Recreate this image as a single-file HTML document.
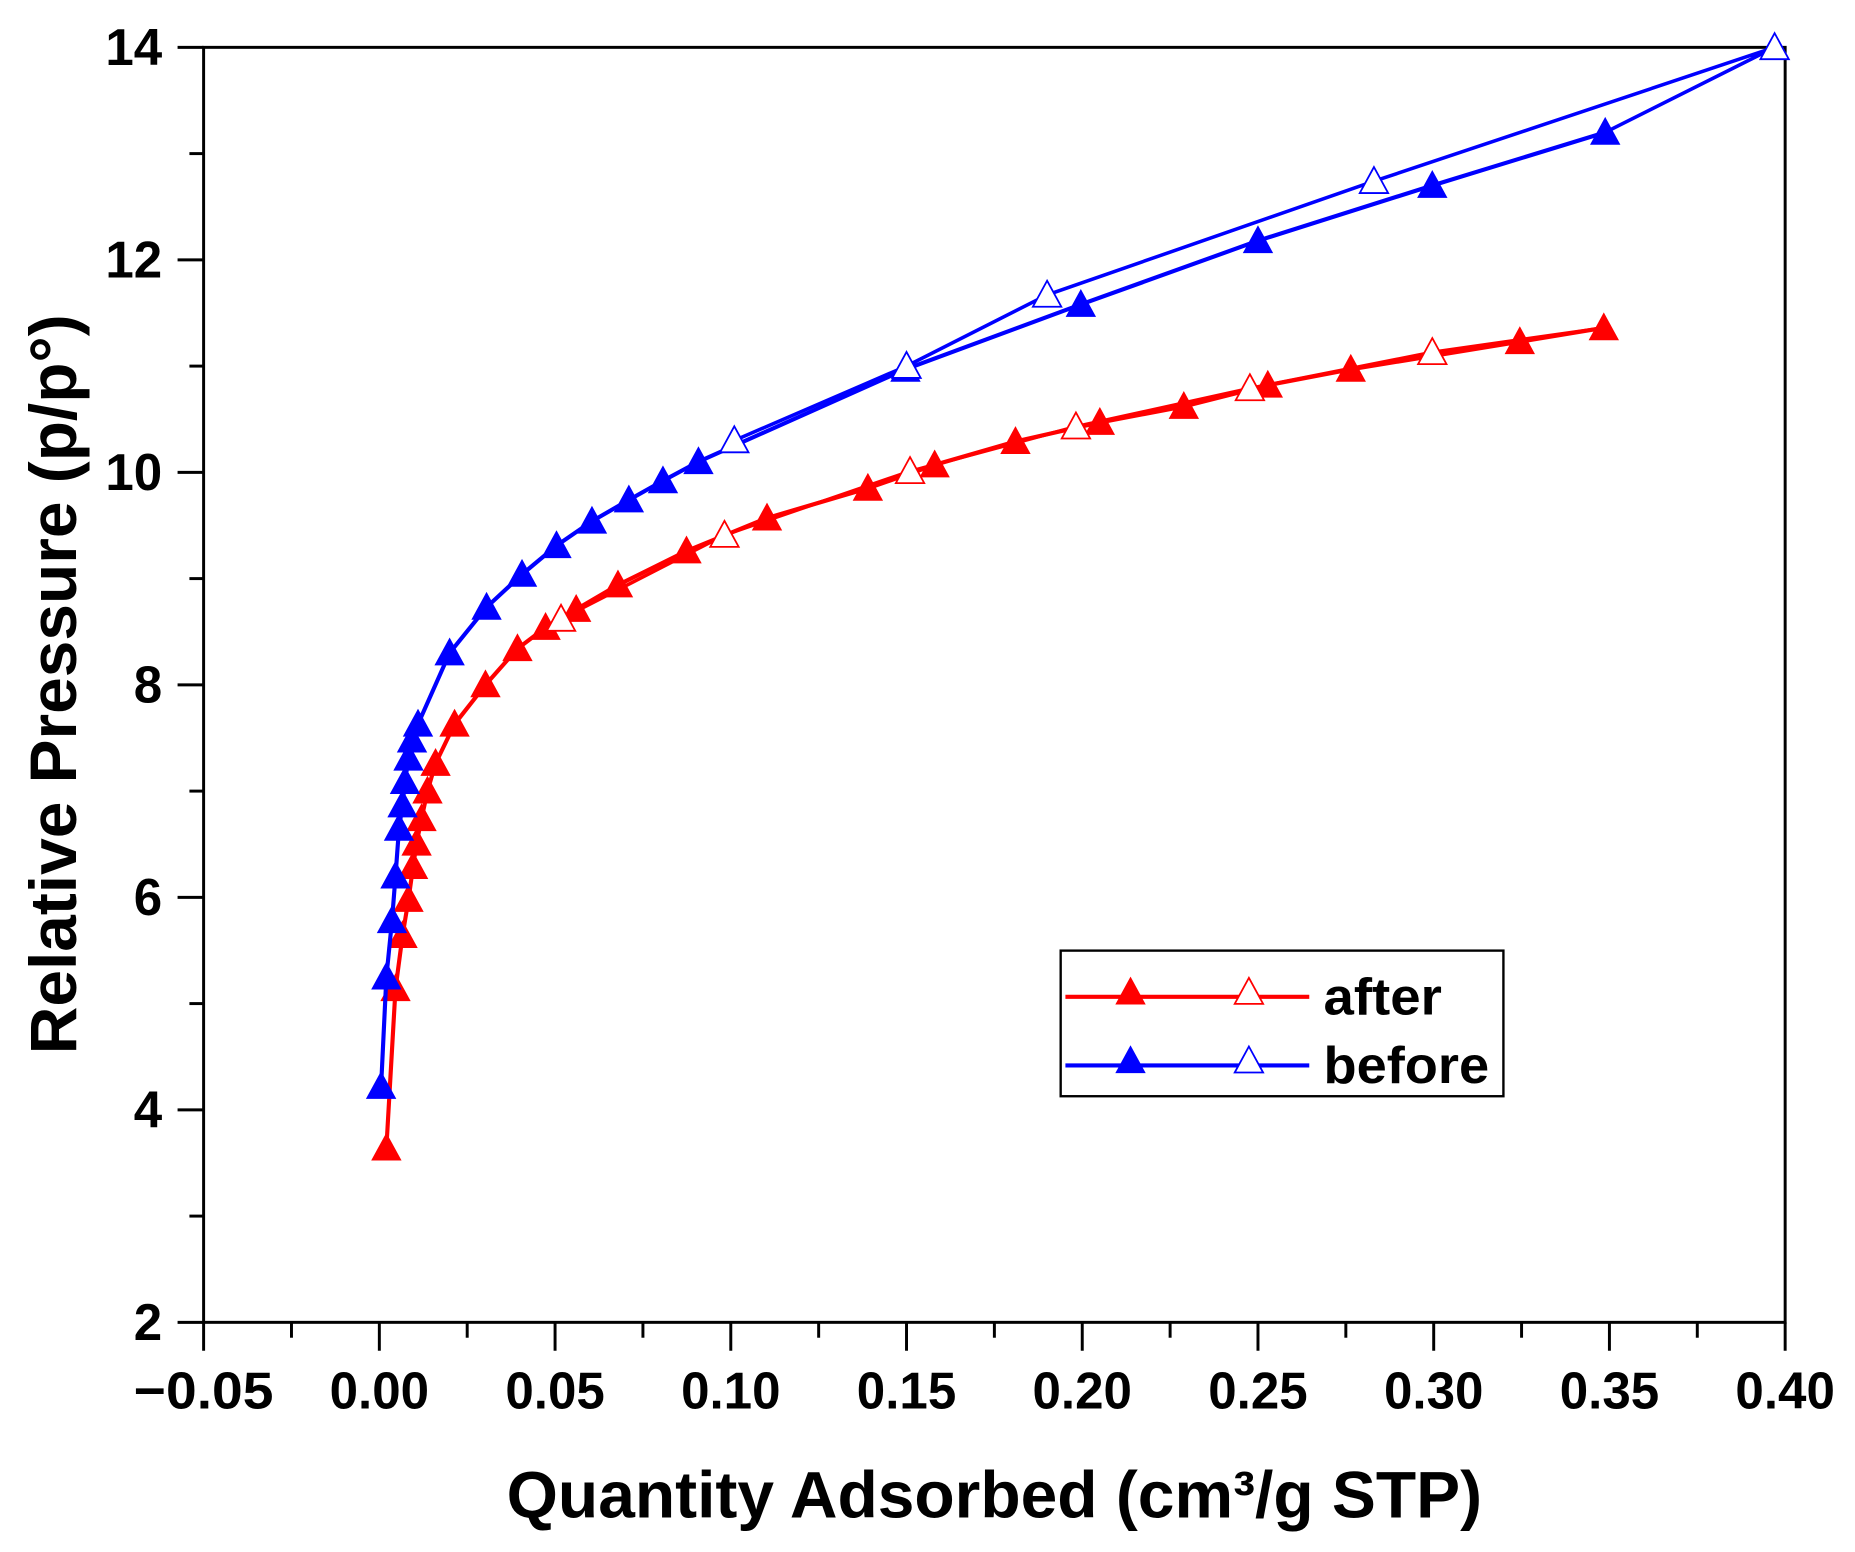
<!DOCTYPE html>
<html><head><meta charset="utf-8"><style>html,body{margin:0;padding:0;background:#fff}svg{display:block}</style></head>
<body>
<svg id="chart" width="1855" height="1552" viewBox="0 0 1567 1311" preserveAspectRatio="none" xmlns="http://www.w3.org/2000/svg" font-family="Liberation Sans, Arial, sans-serif" font-weight="bold">
<rect width="1567" height="1311" fill="#fff"/>
<g id="plot"></g>
</svg>
<script>
const xTicks = [-0.05,0,0.05,0.10,0.15,0.20,0.25,0.30,0.35,0.40];
const xTickLabels = ["\u22120.05","0.00","0.05","0.10","0.15","0.20","0.25","0.30","0.35","0.40"];
const yTicks = [2,4,6,8,10,12,14];
const yTickLabels = ["2","4","6","8","10","12","14"];
const beforeAdsX = [0.0005,0.002,0.0036,0.0046,0.0056,0.0066,0.0073,0.0083,0.0093,0.011,0.02,0.0305,0.0406,0.0504,0.0605,0.071,0.0807,0.0908,0.1497,0.1996,0.25,0.2996,0.3488];
const beforeAdsY = [4.22,5.25,5.78,6.2,6.65,6.87,7.09,7.31,7.48,7.63,8.3,8.73,9.04,9.31,9.54,9.74,9.92,10.1,10.97,11.58,12.18,12.70,13.2];
const beforeDesX = [0.397,0.283,0.19,0.15,0.101];
const beforeDesY = [14.0,12.74,11.67,11.0,10.3];
const afterAdsX = [0.002,0.0046,0.0066,0.0083,0.0096,0.0106,0.012,0.0137,0.016,0.0214,0.0302,0.0393,0.0473,0.056,0.0679,0.0874,0.1103,0.139,0.158,0.181,0.205,0.2289,0.2528,0.2764,0.3245,0.3484];
const afterAdsY = [3.64,5.14,5.64,5.98,6.29,6.51,6.74,7.0,7.26,7.63,8.0,8.34,8.54,8.71,8.94,9.26,9.57,9.85,10.07,10.29,10.47,10.62,10.82,10.97,11.23,11.36];
const afterDesX = [0.2996,0.2477,0.1982,0.151,0.0982,0.0517];
const afterDesY = [11.13,10.79,10.43,10.01,9.41,8.62];

const X0=172,X1=1508,Y0=1117,Y1=40;
const xs=v=>X0+(v+0.05)/0.45*(X1-X0);
const ys=v=>Y0-(v-2)/12*(Y0-Y1);
const NS="http://www.w3.org/2000/svg";
const g=document.getElementById('plot');
function mk(tag,attrs,parent){const e=document.createElementNS(NS,tag);for(const k in attrs)e.setAttribute(k,attrs[k]);(parent||g).appendChild(e);return e;}

const frame=mk('rect',{x:X0,y:Y1,width:X1-X0,height:Y0-Y1,fill:'none',stroke:'#000','stroke-width':2.5});



xTicks.forEach((t,i)=>{
  const x=xs(t);
  const tk=mk('line',{x1:x,y1:Y0,x2:x,y2:Y0+24,stroke:'#000','stroke-width':2.5});
  
  
  if(i<xTicks.length-1){const xm=xs(t+0.025);
    const mt=mk('line',{x1:xm,y1:Y0,x2:xm,y2:Y0+13,stroke:'#000','stroke-width':2.5});
    
    }
  const lab=xTickLabels[i];
  const lb=mk('text',{x:x,y:Y0+73,'text-anchor':'middle','font-size':44,textLength:lab.length===5?118:84,lengthAdjust:'spacingAndGlyphs'});
  lb.textContent=lab;
  
  
});
yTicks.forEach((t,i)=>{
  const y=ys(t);
  const tk=mk('line',{x1:X0-22,y1:y,x2:X0,y2:y,stroke:'#000','stroke-width':2.5});
  
  
  if(i<yTicks.length-1){const ym=ys(t+1);
    const mt=mk('line',{x1:X0-12,y1:ym,x2:X0,y2:ym,stroke:'#000','stroke-width':2.5});
    
    }
  const lab=yTickLabels[i];
  const lb=mk('text',{x:X0-35,y:y+15,'text-anchor':'end','font-size':44,textLength:lab.length*24,lengthAdjust:'spacingAndGlyphs'});
  lb.textContent=lab;
  
  
});
const xt=mk('text',{x:840,y:1282,'text-anchor':'middle','font-size':56,textLength:824,lengthAdjust:'spacingAndGlyphs'});
xt.textContent='Quantity Adsorbed (cm\u00B3/g STP)';


const yt=mk('text',{x:0,y:0,'text-anchor':'middle','font-size':56,textLength:625,lengthAdjust:'spacingAndGlyphs',transform:'translate(64,578) rotate(-90)'});
yt.textContent='Relative Pressure (p/p\u00B0)';



function tri(cx,cy,color,filled,name,parent){
  const s=12;
  const p=mk('polygon',{points:`${cx},${cy-s} ${cx+s},${cy+10} ${cx-s},${cy+10}`,fill:filled?color:'#fff',stroke:color,'stroke-width':filled?1:1.5},parent);
  
  
}
function series(ax,ay,dx,dy,color,name){
  const sg=mk('g',{});
  
  
  const adsPts=ax.map((v,i)=>xs(v)+','+ys(ay[i]));
  const desPts=[xs(ax[ax.length-1])+','+ys(ay[ay.length-1])].concat(dx.map((v,i)=>xs(v)+','+ys(dy[i])));
  const l1=mk('polyline',{points:adsPts.join(' '),fill:'none',stroke:color,'stroke-width':3.5},sg);
  
  
  const l2=mk('polyline',{points:desPts.join(' '),fill:'none',stroke:color,'stroke-width':3},sg);
  
  
  ax.forEach((v,i)=>tri(xs(v),ys(ay[i]),color,true,name+'-adsorption-point',sg));
  dx.forEach((v,i)=>tri(xs(v),ys(dy[i]),color,false,name+'-desorption-point',sg));
}
series(afterAdsX,afterAdsY,afterDesX,afterDesY,'#ff0000','after');
series(beforeAdsX,beforeAdsY,beforeDesX,beforeDesY,'#0000ff','before');

const lg=mk('g',{});


const lr=mk('rect',{x:896,y:803,width:374,height:123,fill:'#fff',stroke:'#000','stroke-width':2},lg);


[['after','#ff0000',842,100],['before','#0000ff',900,140]].forEach(([n,c,y,w])=>{
  const e=mk('g',{},lg);
  
  
  const ln=mk('line',{x1:900,y1:y,x2:1106,y2:y,stroke:c,'stroke-width':3.5},e);
  
  
  tri(955,y-4,c,true,'legend-marker-filled',e);
  tri(1055,y-4,c,false,'legend-marker-open',e);
  const t=mk('text',{x:1118,y:y+15,'font-size':44,textLength:w,lengthAdjust:'spacingAndGlyphs'},e);
  t.textContent=n;
  
  
});
</script>
</body></html>
